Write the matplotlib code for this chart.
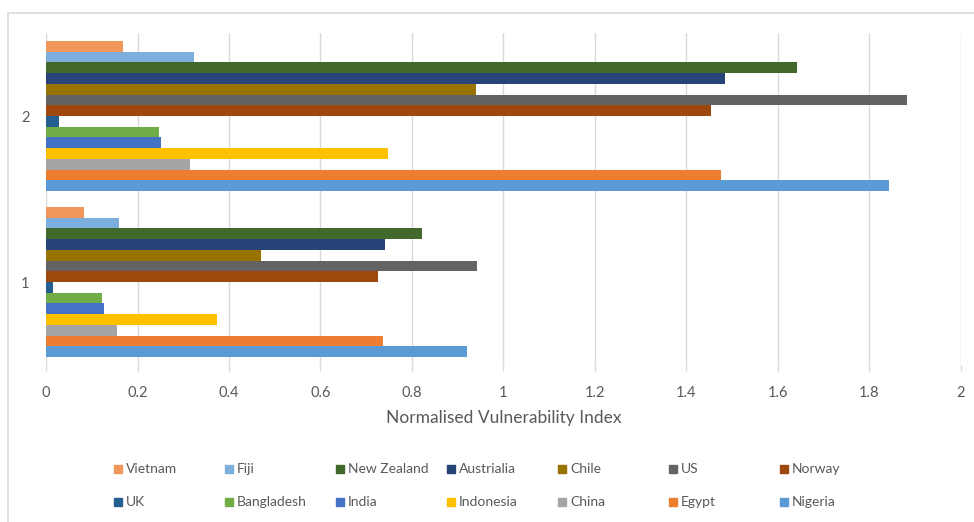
import matplotlib.pyplot as plt
from matplotlib.patches import Rectangle

plt.rcParams['font.family'] = ['Lato', 'DejaVu Sans']

# series listed bottom-to-top within each group
countries = ['Nigeria', 'Egypt', 'China', 'Indonesia', 'India', 'Bangladesh', 'UK',
             'Norway', 'US', 'Chile', 'Austrialia', 'New Zealand', 'Fiji', 'Vietnam']
colors = ['#5B9BD5', '#ED7D31', '#A5A5A5', '#FFC000', '#4472C4', '#70AD47', '#255E91',
          '#9E480E', '#636363', '#997300', '#264478', '#43682B', '#7CAFDD', '#F1975A']
groups = [1, 2]
vals_1 = [0.920, 0.737, 0.156, 0.373, 0.126, 0.122, 0.015,
          0.725, 0.941, 0.470, 0.742, 0.821, 0.160, 0.084]
vals_2 = [1.843, 1.476, 0.314, 0.747, 0.252, 0.248, 0.029,
          1.453, 1.882, 0.939, 1.484, 1.641, 0.323, 0.168]
xticks = [0, 0.2, 0.4, 0.6, 0.8, 1, 1.2, 1.4, 1.6, 1.8, 2]
xticklabels = ['0', '0.2', '0.4', '0.6', '0.8', '1', '1.2', '1.4', '1.6', '1.8', '2']

W, H = 974, 522
fig = plt.figure(figsize=(W / 100, H / 100), dpi=100)
ax = fig.add_axes([46 / W, 1 - 365 / H, 915 / W, 332 / H])

n = len(countries)
h = 1 / (n + 1.5)  # 150% gap width
for i, (name, c) in enumerate(zip(countries, colors)):
    off = (i - (n - 1) / 2) * h
    ax.barh([g + off for g in groups], [vals_1[i], vals_2[i]], height=h,
            color=c, zorder=2)

ax.set_xlim(0, 2)
ax.set_ylim(0.5, 2.5)
ax.set_yticks(groups)
ax.set_yticklabels([str(g) for g in groups])
ax.set_xticks(xticks)
ax.set_xticklabels(xticklabels)
ax.grid(axis='x', color='#D9D9D9', linewidth=1, zorder=0)
for s in ax.spines.values():
    s.set_visible(False)
ax.tick_params(axis='x', length=4, color='#D9D9D9', width=1, pad=11,
               labelsize=10.5, labelcolor='#595959')
ax.tick_params(axis='y', length=0, pad=12, labelsize=10.5, labelcolor='#595959')
ax.set_xlabel('Normalised Vulnerability Index', fontsize=12.5, color='#595959',
              labelpad=7)

# chart frame
fig.patches.append(Rectangle((8 / W, -0.1), 1.2, 1 - 13 / H + 0.1,
                             transform=fig.transFigure, fill=False,
                             edgecolor='#D9D9D9', linewidth=1.2))

# legend laid out as a 7 x 2 grid
for k, idx in enumerate(reversed(range(n))):
    row, col = divmod(k, 7)
    x = (118 + col * 111) / W
    y = 1 - (469 + row * 33) / H
    fig.patches.append(Rectangle((x - 4 / W, y - 4 / H), 8 / W, 8 / H,
                                 transform=fig.transFigure,
                                 color=colors[idx]))
    fig.text(x + 8 / W, y, countries[idx], fontsize=10, color='#595959',
             va='center', ha='left')

fig.savefig('out.png', dpi=100)
